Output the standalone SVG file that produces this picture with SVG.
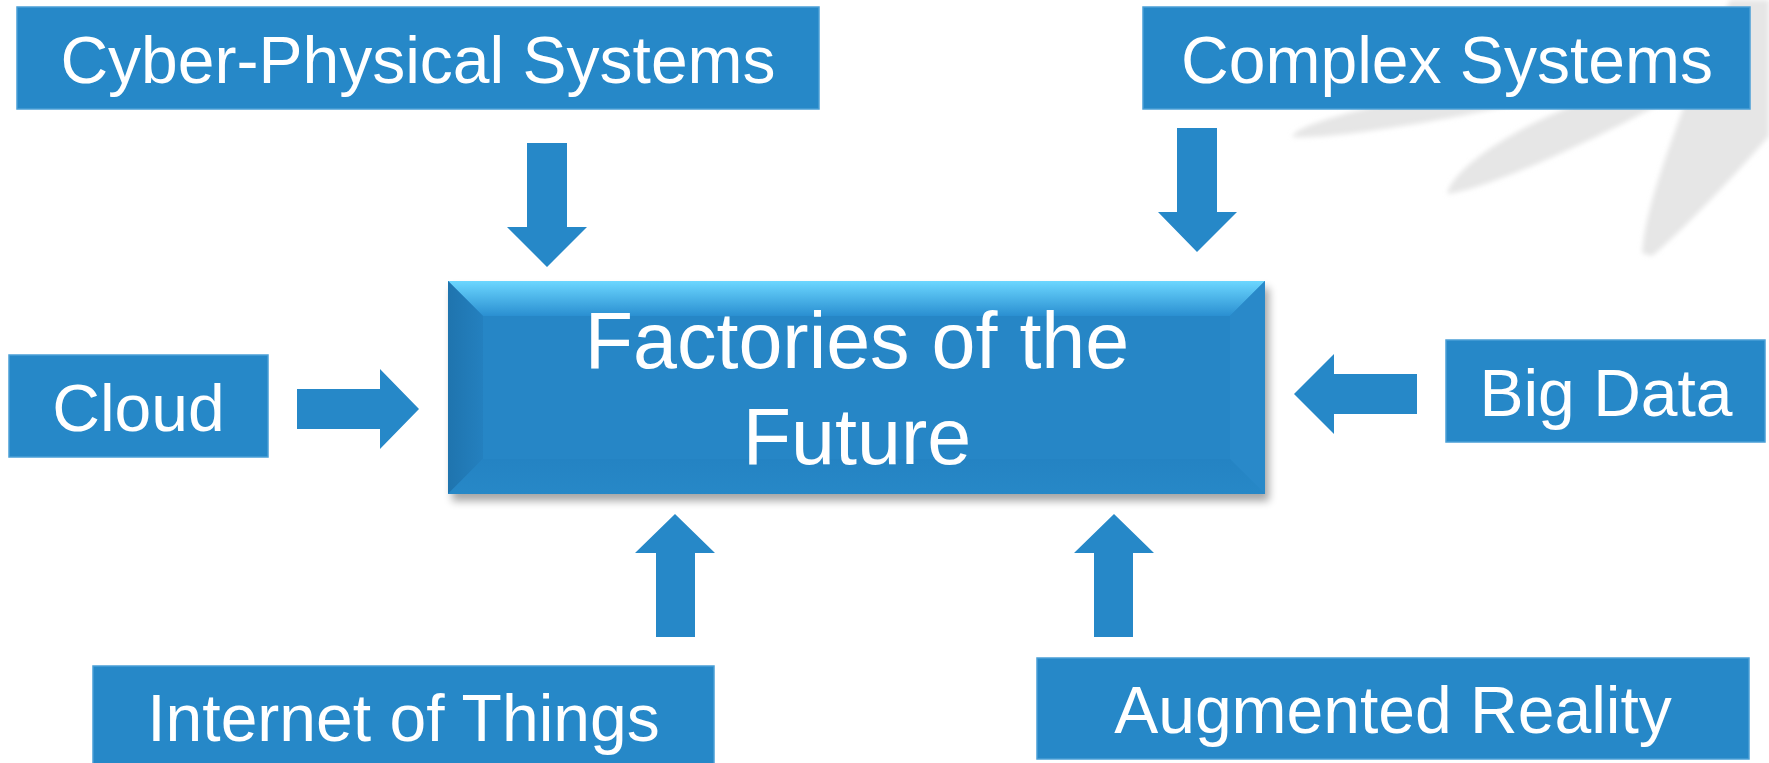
<svg xmlns="http://www.w3.org/2000/svg" width="1769" height="763" viewBox="0 0 1769 763">
  <defs>
    <style>
      .box { fill: #2688C8; stroke: #4a9fd6; stroke-width: 1.5; }
      .arrow { fill: #2688C8; }
      .lbl { font-family: "Liberation Sans", Arial, sans-serif; font-size: 66px; fill: #ffffff; text-anchor: middle; }
      .main { font-family: "Liberation Sans", Arial, sans-serif; font-size: 79px; fill: #ffffff; text-anchor: middle; }
      .leaf { fill: #dcdcdc; opacity: 0.7; }
    </style>
    <linearGradient id="topBevel" x1="0" y1="0" x2="0" y2="1">
      <stop offset="0" stop-color="#6cd7ff"/>
      <stop offset="1" stop-color="#2a8fd1"/>
    </linearGradient>
    <linearGradient id="leftBevel" x1="0" y1="0" x2="1" y2="0">
      <stop offset="0" stop-color="#1f74ae"/>
      <stop offset="1" stop-color="#2480bf"/>
    </linearGradient>
    <linearGradient id="bottomBevel" x1="0" y1="0" x2="0" y2="1">
      <stop offset="0" stop-color="#2483c3"/>
      <stop offset="1" stop-color="#2788c7"/>
    </linearGradient>
    <filter id="shadow" x="-10%" y="-10%" width="120%" height="130%">
      <feGaussianBlur stdDeviation="4"/>
    </filter>
    <filter id="soft" x="-20%" y="-20%" width="140%" height="140%">
      <feGaussianBlur stdDeviation="2.5"/>
    </filter>
  </defs>

  <rect x="0" y="0" width="1769" height="763" fill="#ffffff"/>

  <g id="background" filter="url(#soft)">
    <path class="leaf" d="M1292,137 C1300,118 1420,98 1590,55 L1600,85 C1460,120 1330,140 1292,137 Z"/>
    <path class="leaf" d="M1447,194 C1452,168 1520,122 1600,96 L1660,104 C1590,142 1490,188 1447,194 Z"/>
    <path class="leaf" d="M1642,253 C1645,212 1664,160 1690,90 L1730,0 L1769,0 L1769,136 C1722,190 1672,240 1652,256 Z"/>
  </g>

  <g id="connectors">
    <polygon id="arrow-cps" class="arrow" points="527,143 567,143 567,227 587,227 547,267 507,227 527,227"/>
    <polygon id="arrow-complex" class="arrow" points="1177,128 1217,128 1217,212 1237,212 1197,252 1158,212 1177,212"/>
    <polygon id="arrow-cloud" class="arrow" points="297,389 380,389 380,369 419,409 380,449 380,429 297,429"/>
    <polygon id="arrow-bigdata" class="arrow" points="1417,374 1334,374 1334,354 1294,394 1334,434 1334,414 1417,414"/>
    <polygon id="arrow-iot" class="arrow" points="656,637 656,553 635,553 675,514 715,553 695,553 695,637"/>
    <polygon id="arrow-ar" class="arrow" points="1094,637 1094,553 1074,553 1114,514 1154,553 1133,553 1133,637"/>
  </g>

  <g id="node-cps">
    <rect class="box" x="17" y="7" width="802" height="102"/>
    <text class="lbl" x="418" y="83">Cyber-Physical Systems</text>
  </g>

  <g id="node-complex">
    <rect class="box" x="1143" y="7" width="607" height="102"/>
    <text class="lbl" x="1447" y="83">Complex Systems</text>
  </g>

  <g id="node-cloud">
    <rect class="box" x="9" y="355" width="259" height="102"/>
    <text class="lbl" x="138.5" y="431">Cloud</text>
  </g>

  <g id="node-bigdata">
    <rect class="box" x="1446" y="340" width="319" height="102"/>
    <text class="lbl" x="1606" y="416">Big Data</text>
  </g>

  <g id="node-iot">
    <rect class="box" x="93" y="666" width="621" height="110"/>
    <text class="lbl" x="403.5" y="741">Internet of Things</text>
  </g>

  <g id="node-ar">
    <rect class="box" x="1037" y="658" width="712" height="101"/>
    <text class="lbl" x="1393" y="733">Augmented Reality</text>
  </g>

  <g id="node-factories">
    <rect x="452" y="288" width="817" height="213" fill="#000000" opacity="0.35" filter="url(#shadow)"/>
    <rect x="448" y="281" width="817" height="213" fill="#2686C6"/>
    <polygon points="448,281 1265,281 1230,316 483,316" fill="url(#topBevel)"/>
    <polygon points="448,281 483,316 483,459 448,494" fill="url(#leftBevel)"/>
    <polygon points="1265,281 1265,494 1230,459 1230,316" fill="#2989c9"/>
    <polygon points="448,494 483,459 1230,459 1265,494" fill="url(#bottomBevel)"/>
    <rect x="483" y="316" width="747" height="143" fill="#2686C6"/>
    <text class="main" x="857" y="368">Factories of the</text>
    <text class="main" x="857" y="464">Future</text>
  </g>
</svg>
